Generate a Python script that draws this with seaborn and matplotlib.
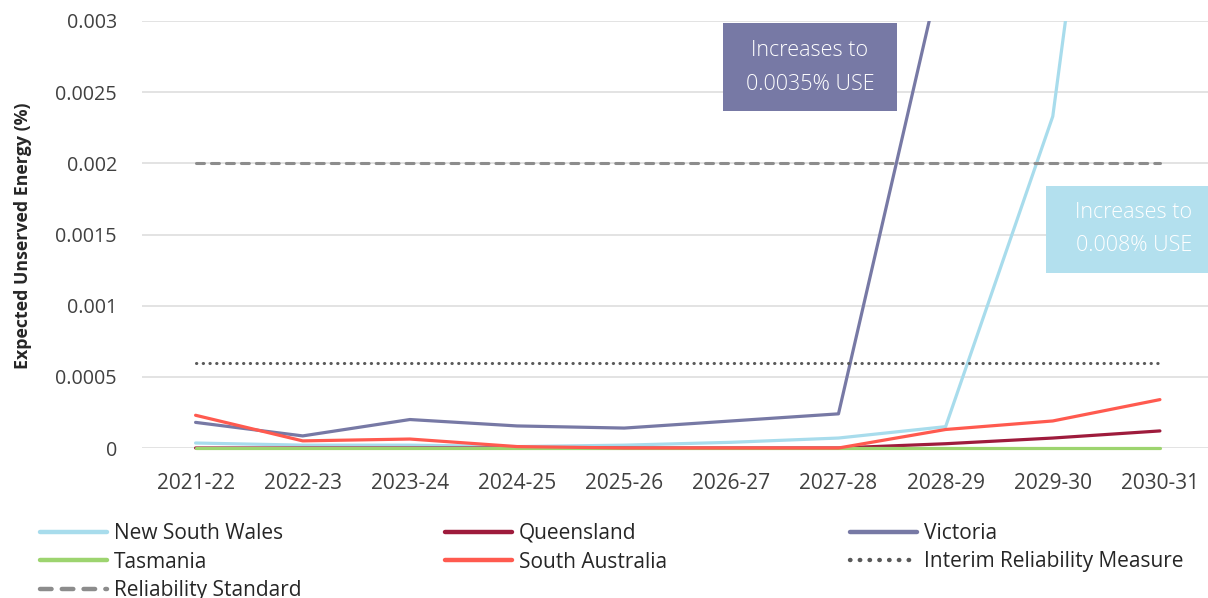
import seaborn as sns
import matplotlib.pyplot as plt
import matplotlib.patches as mpatches
import pandas as pd

# datos
years = ['2021-22', '2022-23', '2023-24', '2024-25', '2025-26',
         '2026-27', '2027-28', '2028-29', '2029-30', '2030-31']
nsw = [0.000035, 0.00002, 0.00002, 0.00001, 0.00002, 0.00004, 0.00007, 0.00015, 0.00233, 0.008]
qld = [0, 0, 0, 0, 0, 0, 0, 0.00003, 0.00007, 0.00012]
vic = [0.00018, 0.000085, 0.0002, 0.000155, 0.00014, 0.00019, 0.00024, 0.0035, 0.0035, 0.0035]
tas = [0, 0, 0, 0, 0, 0, 0, 0, 0, 0]
sa = [0.00023, 0.00005, 0.000063, 0.00001, 0, 0, 0, 0.00013, 0.00019, 0.00034]
irm = [0.0006] * 10
rs = [0.002] * 10

names = ['New South Wales', 'Queensland', 'Victoria', 'Tasmania', 'South Australia',
         'Interim Reliability Measure', 'Reliability Standard']
colores = ['#a8dcec', '#9e1b3c', '#7779a5', '#9dd46f', '#ff5a4f', '#595959', '#8c8c8c']
estilos = ['-', '-', '-', '-', '-', ':', '--']

series = [nsw, qld, vic, tas, sa, irm, rs]
df = pd.concat([pd.DataFrame({'year': years, 'x': range(len(years)), 'value': s, 'serie': n})
                for s, n in zip(series, names)])

sns.set_style('white')
plt.rcParams['font.family'] = ['Open Sans', 'DejaVu Sans']

W, H = 1208, 598
fig = plt.figure(figsize=(W / 100, H / 100), dpi=100)
ax = fig.add_axes([142 / W, 150 / H, 1071.5 / W, 427 / H])

# para que las lineas en cero no se corten a la mitad
clip = mpatches.Rectangle((0, -0.05), 1, 1.05, transform=ax.transAxes,
                          fc='none', ec='none')
ax.add_patch(clip)

handles = {}
for n, c, ls in zip(names, colores, estilos):
    sub = df[df['serie'] == n]
    lw = 2.3 if ls == '-' else 2.2
    sns.lineplot(data=sub, x='x', y='value', color=c, ax=ax, linewidth=lw,
                 linestyle=ls, legend=False, sort=False)
    line = ax.lines[-1]
    line.set_solid_capstyle('round')
    line.set_solid_joinstyle('round')
    line.set_clip_path(clip)
    if ls == ':':
        line.set_dashes([0.1, 2.1])
        line.set_dash_capstyle('round')
    if ls == '--':
        line.set_dashes([2.6, 2.3])
        line.set_dash_capstyle('round')
    handles[n] = line

ax.set_xlim(-0.5, 9.5)
ax.set_ylim(0, 0.003)
ax.set_yticks([0, 0.0005, 0.001, 0.0015, 0.002, 0.0025, 0.003])
ax.set_yticklabels(['0', '0.0005', '0.001', '0.0015', '0.002', '0.0025', '0.003'])
ax.set_xticks(range(len(years)))
ax.set_xticklabels(years)
ax.tick_params(axis='y', length=0, pad=18, labelsize=14.2, labelcolor='#404040')
ax.tick_params(axis='x', length=0, pad=18, labelsize=15, labelcolor='#404040')
ax.grid(axis='y', color='#e3e3e3', linewidth=1.4, zorder=0)
ax.set_axisbelow(True)
for s in ax.spines.values():
    s.set_visible(False)
ax.set_xlabel('')
ax.set_ylabel('')

fig.text(23 / W, 1 - 236 / H, 'Expected Unserved Energy (%)', rotation=90,
         ha='center', va='center', fontsize=12.8, fontweight='bold', color='#262626')

# cajas de anotacion (en pixeles de la figura)
fig.patches.append(mpatches.Rectangle((723 / W, 1 - 111 / H), 174 / W, 88 / H,
                                      transform=fig.transFigure, fc='#7779a5', ec='none'))
fig.text(810 / W, 1 - 50 / H, 'Increases to', ha='center', va='center',
         fontsize=15.5, color='white', fontweight='light')
fig.text(810 / W, 1 - 84 / H, '0.0035% USE', ha='center', va='center',
         fontsize=15.5, color='white', fontweight='light')
fig.patches.append(mpatches.Rectangle((1046 / W, 1 - 273 / H), 170 / W, 87 / H,
                                      transform=fig.transFigure, fc='#b3e0ee', ec='none'))
fig.text(1192 / W, 1 - 212 / H, 'Increases to', ha='right', va='center',
         fontsize=15.5, color='white', fontweight='light')
fig.text(1192 / W, 1 - 245 / H, '0.008% USE', ha='right', va='center',
         fontsize=15.5, color='white', fontweight='light')

# leyenda en tres columnas
cols = [(40, ['New South Wales', 'Tasmania', 'Reliability Standard']),
        (445, ['Queensland', 'South Australia']),
        (850, ['Victoria', 'Interim Reliability Measure'])]
for xpos, items in cols:
    leg = fig.legend([handles[i] for i in items], items, loc='upper left',
                     bbox_to_anchor=(xpos / W, 1 - 523 / H), frameon=False,
                     fontsize=15, handlelength=3.2, handletextpad=0.35,
                     borderpad=0, borderaxespad=0, labelspacing=0.36,
                     labelcolor='#262626')
    for h in leg.legend_handles:
        h.set_linewidth(3.2)

fig.savefig('out.png', dpi=100)
